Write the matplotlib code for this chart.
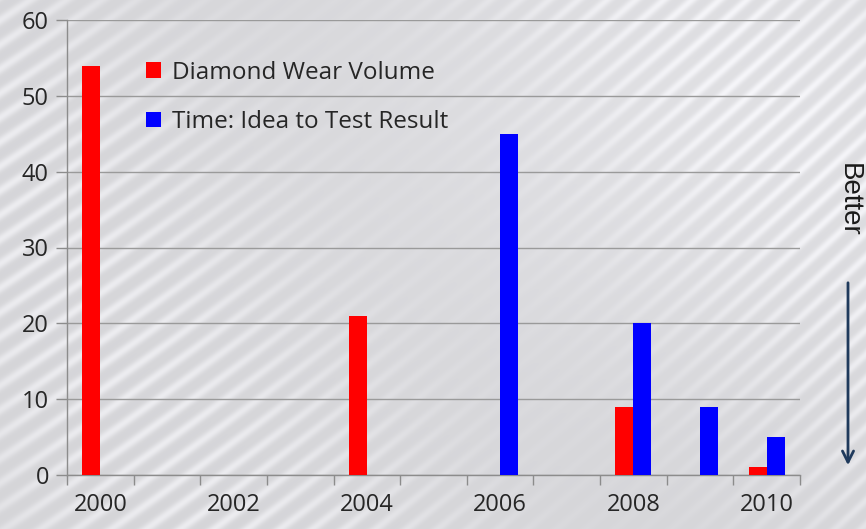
import numpy as np
import matplotlib
matplotlib.use("Agg")
import matplotlib.pyplot as plt
from matplotlib.patches import FancyArrowPatch

plt.rcParams['font.family'] = ['Open Sans', 'DejaVu Sans']

years = [2000, 2001, 2002, 2003, 2004, 2005, 2006, 2007, 2008, 2009, 2010]
wear_volume = [54, 0, 0, 0, 21, 0, 0, 0, 9, 0, 1]
idea_to_test = [0, 0, 0, 0, 0, 0, 45, 0, 20, 9, 5]
series_names = ["Diamond Wear Volume", "Time: Idea to Test Result"]
y_ticks = [0, 10, 20, 30, 40, 50, 60]

W, H = 866, 529
fig = plt.figure(figsize=(W / 100, H / 100), dpi=100)

# brushed silver backdrop with soft diagonal streaks
bg = fig.add_axes([0, 0, 1, 1], zorder=0)
yy, xx = np.mgrid[0:H, 0:W].astype(float)
yb = H - yy
u = xx * 0.62 - yb * 0.78
bend = 0.00012 * (xx - 430) ** 2
phase = (u + bend) / 19.0
streak = (0.5 + 0.5 * np.sin(2 * np.pi * phase)) ** 2
mod = 0.55 + 0.45 * np.sin(2 * np.pi * (xx * 0.5 + yb * 0.3) / 420.0)
glow = np.exp(-(((xx - 700) / 380) ** 2 + ((yy - 120) / 260) ** 2))
tex = 0.85 + 0.04 * glow + 0.09 * streak * mod
tex = np.clip(tex, 0, 1)
img = np.dstack([tex * 0.985, tex * 0.985, tex * 1.0])
bg.imshow(img, extent=[0, W, 0, H], origin='upper', aspect='auto',
          interpolation='bilinear')
bg.axis('off')

ax = fig.add_axes([67 / W, 1 - 475 / H, 733 / W, 455 / H], zorder=1)
ax.patch.set_alpha(0)

x = np.arange(len(years))
bw = 0.27
ax.bar(x - bw / 2, wear_volume, width=bw, color='#ff0000', label=series_names[0], zorder=3)
ax.bar(x + bw / 2, idea_to_test, width=bw, color='#0000ff', label=series_names[1], zorder=3)

ax.set_xlim(-0.5, len(years) - 0.5)
ax.set_ylim(0, 60)
ax.set_yticks(y_ticks)
ax.yaxis.grid(True, color='#9a9a9a', linewidth=1.0, zorder=1)
ax.set_axisbelow(True)

ax.set_xticks(x)
ax.set_xticklabels([str(y) if i % 2 == 0 else '' for i, y in enumerate(years)])
ax.tick_params(axis='x', length=0, pad=13, labelsize=17, labelcolor='#262626')
ax.set_xticks(np.arange(-0.5, len(years), 1.0), minor=True)
ax.tick_params(axis='x', which='minor', length=7, width=1, color='#8c8c8c', direction='out')
ax.tick_params(axis='y', length=8, width=1, color='#8c8c8c', pad=5,
               labelsize=17, labelcolor='#262626')

for side in ['top', 'right']:
    ax.spines[side].set_visible(False)
for side in ['left', 'bottom']:
    ax.spines[side].set_color('#8c8c8c')
    ax.spines[side].set_linewidth(1.0)

leg = ax.legend(loc='upper left', bbox_to_anchor=(0.095, 0.932), frameon=False,
                fontsize=17.5, handlelength=0.6, handleheight=0.6, handletextpad=0.45,
                labelspacing=1.05, labelcolor='#262626', borderaxespad=0)

fig.text(849 / W, 1 - 200 / H, "Better", rotation=-90, ha='center', va='center',
         fontsize=20, color='#1a1a1a', family=['Liberation Sans', 'DejaVu Sans'])
arrow = FancyArrowPatch((848 / W, 1 - 280 / H), (848 / W, 1 - 468 / H),
                        transform=fig.transFigure, arrowstyle='->,head_width=4,head_length=8',
                        color='#1f3a5c', linewidth=2, mutation_scale=1)
fig.patches.append(arrow)

fig.savefig("out.png", dpi=100)
